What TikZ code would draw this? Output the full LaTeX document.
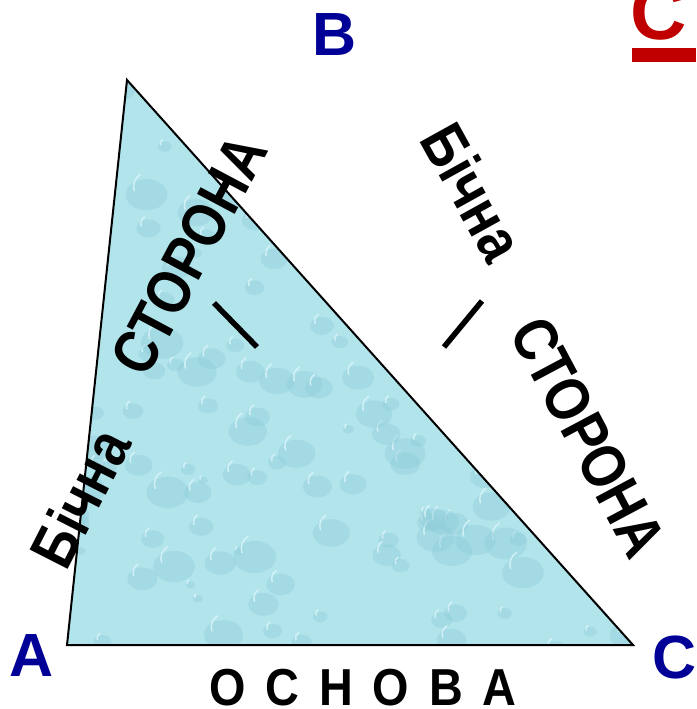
\documentclass[tikz,border=0pt]{standalone}
\usepackage{fontspec}
\usepackage{graphicx}
\setmainfont{Liberation Sans}
\definecolor{lbl}{RGB}{0,0,150}
\definecolor{redc}{RGB}{192,0,0}
\definecolor{water}{RGB}{178,228,236}
\definecolor{drop}{RGB}{145,206,218}
\definecolor{hil}{RGB}{220,246,250}
\newcommand{\sq}[1]{\scalebox{0.85}[1]{#1}}
\newcommand{\sqb}[1]{\scalebox{0.9}[1]{#1}}
\tikzset{
  side/.style={draw=black,line width=2pt,line join=miter},
  vlabel/.style={text=lbl,font=\bfseries\fontsize{61}{61}\selectfont,inner sep=0pt},
  sidetext/.style={font=\bfseries\fontsize{62}{62}\selectfont,inner sep=0pt},
  tickmark/.style={draw=black,line width=5.5pt},
}
\begin{document}
\begin{tikzpicture}[x=1pt,y=-1pt]
\useasboundingbox (0,0) rectangle (696,709);
\coordinate (A) at (67,645);
\coordinate (B) at (127,80);
\coordinate (C) at (633,645);
% fill with water texture
\begin{scope}
\clip (A) -- (B) -- (C) -- cycle;
\fill[water] (0,0) rectangle (696,709);
\pgfmathsetseed{11}
\foreach \i in {1,...,220}{
  \pgfmathsetmacro{\px}{60+580*rnd}
  \pgfmathsetmacro{\py}{80+570*rnd}
  \pgfmathsetmacro{\rr}{4+14*rnd}
  \fill[drop,opacity=0.45] (\px,\py) ellipse[x radius=\rr*1.2pt,y radius=\rr*0.9pt];
  \draw[hil,line width=1.5pt,opacity=0.8] (\px-\rr*0.7,\py-\rr*0.2) arc[start angle=200,end angle=120,radius=\rr*0.8pt];
}
\end{scope}
\draw[side] (A) -- (B) -- (C) -- cycle;
% vertex labels
\node[vlabel] (la) at (32,656) {A};
\node[vlabel] (lb) at (335,35) {B};
\node[vlabel] (lc) at (675,657) {C};
% side texts
\node[sidetext,rotate=63] (t1) at (80,498) {\sq{Бічна}};
\node[sidetext,rotate=62] (t2) at (189,255) {\sq{СТОРОНА}};
\node[sidetext,rotate=-61] (t3) at (473,192) {\sq{Бічна}};
\node[sidetext,rotate=-62] (t4) at (588,437) {\sq{СТОРОНА}};
\node[font=\bfseries\fontsize{52}{52}\selectfont,inner sep=0pt] (base) at (363,688) {\sqb{О\hspace{22pt}С\hspace{22pt}Н\hspace{22pt}О\hspace{22pt}В\hspace{22pt}А}};
% tick marks
\coordinate (k1a) at (214,303);
\coordinate (k1b) at (257,347);
\coordinate (k2a) at (444,347);
\coordinate (k2b) at (482,301);
\draw[tickmark] (k1a) -- (k1b);
\draw[tickmark] (k2a) -- (k2b);
% red heading fragment
\node[text=redc,font=\bfseries\fontsize{78}{78}\selectfont,inner sep=0pt,anchor=base west] (hd) at (630,40) {С};
\fill[redc] (632,48) rectangle (696,62);
\end{tikzpicture}
\end{document}
